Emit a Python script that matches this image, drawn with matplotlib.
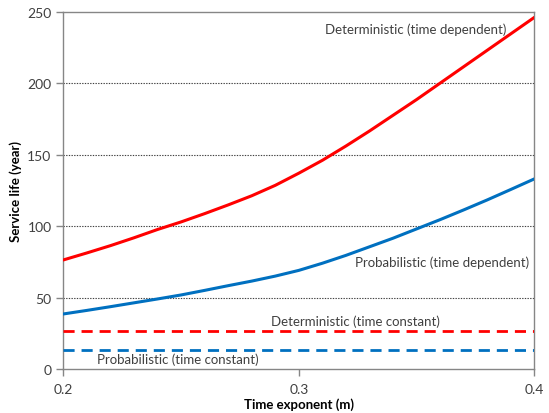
import matplotlib
matplotlib.use("Agg")
import matplotlib.pyplot as plt

plt.rcParams['font.family'] = ['Lato', 'DejaVu Sans']

# Time exponent values and service life results
m_values = [0.20, 0.21, 0.22, 0.23, 0.24, 0.25, 0.26, 0.27, 0.28, 0.29, 0.30,
            0.31, 0.32, 0.33, 0.34, 0.35, 0.36, 0.37, 0.38, 0.39, 0.40]
det_time_dependent = [76.3, 81.2, 86.3, 91.8, 97.6, 102.9, 108.7, 114.8, 121.2, 128.5, 137,
                      146, 156, 166.5, 177.5, 188.5, 200, 211.5, 223, 234.5, 246]
prob_time_dependent = [38.5, 41, 43.6, 46.3, 49, 51.8, 55, 58.3, 61.5, 65, 69,
                       74, 79.5, 85.5, 91.5, 98, 104.5, 111.3, 118.3, 125.6, 133]
det_time_constant = 26.5
prob_time_constant = 13

x_ticks = [0.2, 0.3, 0.4]
x_tick_labels = ['0.2', '0.3', '0.4']
y_ticks = [0, 50, 100, 150, 200, 250]

fig = plt.figure(figsize=(5.49, 4.14), dpi=100)
ax = fig.add_axes([63.3 / 549, 1 - 370 / 414, (534.3 - 63.3) / 549, (370 - 12.7) / 414])

red = '#ff0000'
blue = '#0070c0'
grey = '#868686'

for yv in y_ticks[1:-1]:
    ax.axhline(yv, color='#404040', lw=0.8, ls=(0, (1.2, 1.2)), zorder=1)

ax.plot(m_values, det_time_dependent, color=red, lw=2.2, zorder=3,
        solid_joinstyle='round', solid_capstyle='round')
ax.plot(m_values, prob_time_dependent, color=blue, lw=2.2, zorder=3,
        solid_joinstyle='round', solid_capstyle='round')
ax.plot([m_values[0], m_values[-1]], [det_time_constant] * 2, color=red, lw=2.0,
        ls=(0, (4, 2.5)), zorder=3)
ax.plot([m_values[0], m_values[-1]], [prob_time_constant] * 2, color=blue, lw=2.0,
        ls=(0, (4, 2.5)), zorder=3)

ax.set_xlim(0.2, 0.4)
ax.set_ylim(0, 250)
ax.set_xticks(x_ticks)
ax.set_xticklabels(x_tick_labels)
ax.set_yticks(y_ticks)

for s in ax.spines.values():
    s.set_color(grey)
    s.set_linewidth(1.0)

ax.tick_params(axis='both', colors=grey, labelcolor='#404040', labelsize=10,
               length=5, width=1.0, direction='out')
ax.tick_params(axis='x', pad=5)

ax.set_xlabel('Time exponent (m)', fontsize=9.5, fontweight='bold', color='black', labelpad=2)
ax.set_ylabel('Service life (year)', fontsize=9.5, fontweight='bold', color='black', labelpad=4)

txt_kw = dict(fontsize=9.5, color='#404040', zorder=4)
ax.text(0.3498, 238, 'Deterministic (time dependent)', ha='center', va='center', **txt_kw)
ax.text(0.3608, 75, 'Probabilistic (time dependent)', ha='center', va='center', **txt_kw)
ax.text(0.3240, 33.5, 'Deterministic (time constant)', ha='center', va='center', **txt_kw)
ax.text(0.2487, 7, 'Probabilistic (time constant)', ha='center', va='center', **txt_kw)

fig.savefig('out.png', dpi=100)
